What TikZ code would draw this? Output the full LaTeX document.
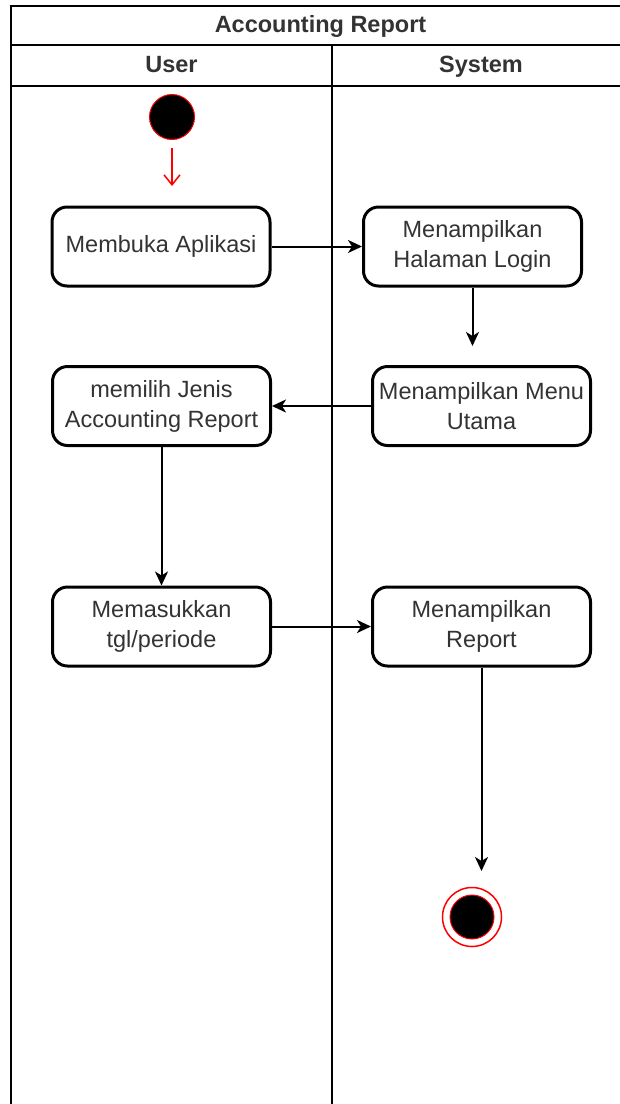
\documentclass[tikz,border=0pt]{standalone}
\usepackage{fontspec}
\setmainfont{Liberation Sans}
\usetikzlibrary{arrows.meta}
\definecolor{txt}{HTML}{333333}
\begin{document}
\begin{tikzpicture}[x=1pt,y=-1pt,
 act/.style={draw=black, line width=3pt, rounded corners=15pt, minimum width=218pt, minimum height=79pt, align=center, font=\fontsize{23.5}{30}\selectfont, text=txt, inner sep=0pt},
 lane/.style={line width=2pt, draw=black},
 flow/.style={line width=2pt, -{Stealth[length=14pt,width=13pt,inset=4pt]}},
 hdr/.style={font=\bfseries\fontsize{23.5}{30}\selectfont, text=txt, text height=17pt, text depth=5pt, inner sep=0pt},
]
\useasboundingbox (0,0) rectangle (620,1104);
\fill[white] (0,0) rectangle (620,1104);
% frame
\draw[lane] (11,1110) -- (11,6) -- (640,6);
\draw[lane] (11,45) -- (640,45);
\draw[lane] (11,86) -- (640,86);
\draw[lane] (332,45) -- (332,1110);
\node[hdr] (title) at (320.5,26) {Accounting Report};
\node[hdr] (user) at (171.5,66) {User};
\node[hdr] (sys) at (481,66) {System};
% start
\node[circle, fill=black, draw=red, line width=1pt, minimum size=45pt, inner sep=0pt] (start) at (172,117) {};
\coordinate (s1) at (172,148);
\coordinate (s2) at (172,186);
\draw[red, line width=1.5pt, -{Straight Barb[length=10pt,width=16pt]}] (s1) -- (s2);
% activities
\node[act] (a) at (161,246.5) {Membuka Aplikasi};
\node[act] (b) at (472.5,246.5) {Menampilkan\\Halaman Login};
\node[act] (c) at (161.5,406) {memilih Jenis\\Accounting Report};
\node[act] (d) at (481.5,406) {Menampilkan Menu\\Utama};
\node[act] (e) at (161.5,626.5) {Memasukkan\\tgl/periode};
\node[act] (f) at (481.5,626.5) {Menampilkan\\Report};
% end
\node[circle, draw=red, line width=1.5pt, minimum size=59pt, inner sep=0pt] (end) at (472,917) {};
\node[circle, fill=black, draw=red, line width=1pt, minimum size=44pt, inner sep=0pt] (endin) at (end.center) {};
% flows
\draw[flow] (a.east) -- (b.west);
\coordinate (bend) at (472.5,346);
\draw[flow] (b.south) -- (bend);
\draw[flow] (d.west) -- (c.east);
\draw[flow] (c.south) -- (e.north);
\draw[flow] (e.east) -- (f.west);
\coordinate (fend) at (481.5,871);
\draw[flow] (f.south) -- (fend);
\end{tikzpicture}
\end{document}
